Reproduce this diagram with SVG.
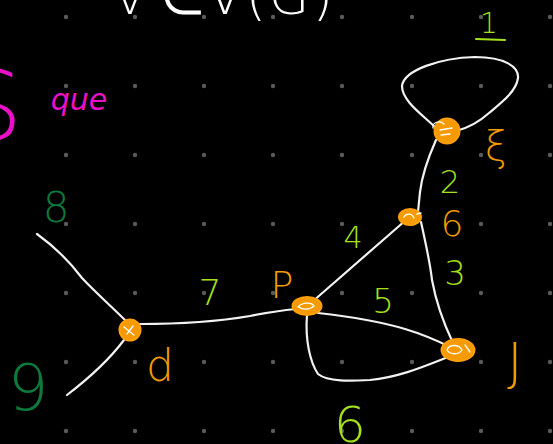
<svg xmlns="http://www.w3.org/2000/svg" width="553" height="444" viewBox="0 0 553 444">
<style>
.dot{fill:#5a5a5a}
.edge{fill:none;stroke:#f2f2f2;stroke-width:2.2;stroke-linecap:round;stroke-linejoin:round}
.node{fill:#f59a00;stroke:#ff9f0a;stroke-width:2}
.scrib{fill:none;stroke:#ffffff;stroke-width:1.3;stroke-linecap:round}
.hand{font-family:"DejaVu Sans","Liberation Sans",sans-serif;font-weight:200;text-anchor:middle}
.g{fill:#a4e01c}
.dg{fill:#0d7a3c}
.pk{fill:#ea10c8}
.or{fill:#f29a00}
.wt{fill:#ffffff}
</style>
<rect width="553" height="444" fill="#000000"/>
<g id="grid">
<circle class="dot" cx="66" cy="17" r="2.2"/><circle class="dot" cx="135" cy="17" r="2.2"/><circle class="dot" cx="204" cy="17" r="2.2"/><circle class="dot" cx="273" cy="17" r="2.2"/><circle class="dot" cx="342" cy="17" r="2.2"/><circle class="dot" cx="412" cy="17" r="2.2"/><circle class="dot" cx="481" cy="17" r="2.2"/><circle class="dot" cx="550" cy="17" r="2.2"/>
<circle class="dot" cx="66" cy="86" r="2.2"/><circle class="dot" cx="135" cy="86" r="2.2"/><circle class="dot" cx="204" cy="86" r="2.2"/><circle class="dot" cx="273" cy="86" r="2.2"/><circle class="dot" cx="342" cy="86" r="2.2"/><circle class="dot" cx="412" cy="86" r="2.2"/><circle class="dot" cx="481" cy="86" r="2.2"/><circle class="dot" cx="550" cy="86" r="2.2"/>
<circle class="dot" cx="66" cy="155" r="2.2"/><circle class="dot" cx="135" cy="155" r="2.2"/><circle class="dot" cx="204" cy="155" r="2.2"/><circle class="dot" cx="273" cy="155" r="2.2"/><circle class="dot" cx="342" cy="155" r="2.2"/><circle class="dot" cx="412" cy="155" r="2.2"/><circle class="dot" cx="481" cy="155" r="2.2"/><circle class="dot" cx="550" cy="155" r="2.2"/>
<circle class="dot" cx="66" cy="224" r="2.2"/><circle class="dot" cx="135" cy="224" r="2.2"/><circle class="dot" cx="204" cy="224" r="2.2"/><circle class="dot" cx="273" cy="224" r="2.2"/><circle class="dot" cx="342" cy="224" r="2.2"/><circle class="dot" cx="412" cy="224" r="2.2"/><circle class="dot" cx="481" cy="224" r="2.2"/><circle class="dot" cx="550" cy="224" r="2.2"/>
<circle class="dot" cx="66" cy="293" r="2.2"/><circle class="dot" cx="135" cy="293" r="2.2"/><circle class="dot" cx="204" cy="293" r="2.2"/><circle class="dot" cx="273" cy="293" r="2.2"/><circle class="dot" cx="342" cy="293" r="2.2"/><circle class="dot" cx="412" cy="293" r="2.2"/><circle class="dot" cx="481" cy="293" r="2.2"/><circle class="dot" cx="550" cy="293" r="2.2"/>
<circle class="dot" cx="66" cy="362" r="2.2"/><circle class="dot" cx="135" cy="362" r="2.2"/><circle class="dot" cx="204" cy="362" r="2.2"/><circle class="dot" cx="273" cy="362" r="2.2"/><circle class="dot" cx="342" cy="362" r="2.2"/><circle class="dot" cx="412" cy="362" r="2.2"/><circle class="dot" cx="481" cy="362" r="2.2"/><circle class="dot" cx="550" cy="362" r="2.2"/>
<circle class="dot" cx="66" cy="431" r="2.2"/><circle class="dot" cx="135" cy="431" r="2.2"/><circle class="dot" cx="204" cy="431" r="2.2"/><circle class="dot" cx="273" cy="431" r="2.2"/><circle class="dot" cx="342" cy="431" r="2.2"/><circle class="dot" cx="412" cy="431" r="2.2"/><circle class="dot" cx="481" cy="431" r="2.2"/><circle class="dot" cx="550" cy="431" r="2.2"/>
</g>
<g id="title">
<text class="hand wt" font-size="52" y="14"><tspan x="130">v</tspan><tspan x="182">∈</tspan><tspan x="225">V</tspan><tspan x="256">(</tspan><tspan x="289">G</tspan><tspan x="323">)</tspan></text>
</g>
<g id="connectors">
<path class="edge" d="M37,234 C55,247 70,262 82,278 C95,292 110,305 128,323"/>
<path class="edge" d="M124,340 C112,356 97,372 67,395"/>
<path class="edge" d="M140,324 C180,324 215,322 250,316 C270,312 285,310 296,309"/>
<path class="edge" d="M312,302 L406,220"/>
<path class="edge" d="M318,313 C345,316 375,320 405,329 C425,335 440,342 450,347"/>
<path class="edge" d="M307,315 C305,340 310,362 318,374 C328,382 350,381 370,380 C400,377 425,366 448,357"/>
<path class="edge" d="M421,222 C425,240 430,262 432,280 C436,302 443,322 453,343"/>
<path class="edge" d="M436,140 C428,158 422,175 420,192 L418,212"/>
<path class="edge" d="M434,126 C420,113 402,100 402,86 C404,70 440,58 475,57 C505,57 519,67 518,78 C516,92 501,103 489,113 C479,122 468,128 456,131"/>
</g>
<g id="node-P">
<circle class="node" cx="130" cy="330" r="10.5"/>
<path class="scrib" d="M124,327 L134,335 M127,334 L133,326"/>
</g>
<g id="node-Q">
<ellipse class="node" cx="307" cy="306" rx="14.5" ry="9"/>
<path class="scrib" d="M298,307 C302,302 312,302 314,306 C310,310 302,310 299,307"/>
</g>
<g id="node-R">
<ellipse class="node" cx="410" cy="217" rx="11" ry="8"/>
<path class="scrib" d="M404,217 C406,213 412,213 414,218 M417,214 L421,213"/>
</g>
<g id="node-T">
<circle class="node" cx="447" cy="131" r="12.5"/>
<path class="scrib" d="M433,128 C432,122 440,120 444,124 M440,130 L452,128 M441,135 L450,134"/>
</g>
<g id="node-U">
<ellipse class="node" cx="458" cy="350" rx="16.5" ry="11"/>
<path class="scrib" d="M447,350 C449,344 459,344 462,350 C459,355 450,355 447,350 M465,345 L470,352"/>
</g>
<g id="labels">
<text class="hand g" font-size="28" x="489" y="33">1</text>
<path d="M476,39 L505,40" fill="none" stroke="#a4e01c" stroke-width="2" stroke-linecap="round"/>
<text class="hand g" font-size="32" x="450" y="193">2</text>
<text class="hand g" font-size="34" x="455" y="285">3</text>
<text class="hand g" font-size="30" x="353" y="248">4</text>
<text class="hand g" font-size="34" x="383" y="313">5</text>
<text class="hand g" font-size="50" x="350" y="442">6</text>
<text class="hand g" font-size="36" x="210" y="305">7</text>
<text class="hand dg" font-size="42" x="56" y="222">8</text>
<text class="hand dg" font-size="64" x="28" y="410">9</text>
<text class="hand pk" font-size="30" font-style="italic" x="79" y="110">que</text>
<text class="hand pk" font-size="96" x="-8" y="140">S</text>
<text class="hand or" font-size="44" x="160" y="381">d</text>
<text class="hand or" font-size="38" x="282" y="298">P</text>
<text class="hand or" font-size="36" x="452" y="236">6</text>
<text class="hand or" font-size="40" x="496" y="160">ξ</text>
<text class="hand or" font-size="52" x="515" y="380">J</text>
</g>
</svg>
